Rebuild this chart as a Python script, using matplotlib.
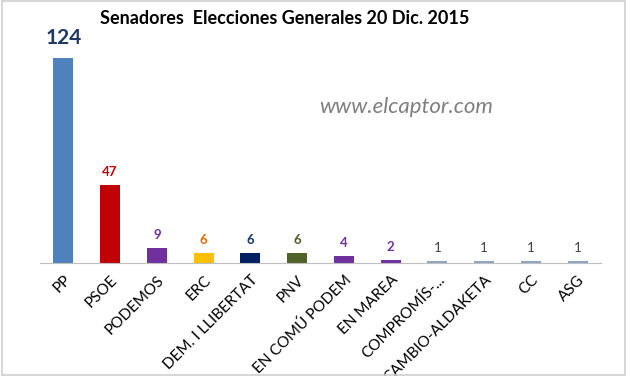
import matplotlib.pyplot as plt
from matplotlib.patches import Rectangle

# Senate seats per party
partidos = ["PP", "PSOE", "PODEMOS", "ERC", "DEM. I LLIBERTAT", "PNV", "EN COMÚ PODEM",
            "EN MAREA", "COMPROMÍS-...", "CAMBIO-ALDAKETA", "CC", "ASG"]
escanos = [124, 47, 9, 6, 6, 6, 4, 2, 1, 1, 1, 1]
colores = ["#4F81BD", "#C00000", "#7030A0", "#FFC000", "#002060", "#4F6228",
           "#7030A0", "#7030A0", "#8EA4BE", "#8EA4BE", "#8EA4BE", "#8EA4BE"]
col_etiq = ["#1F3864", "#C00000", "#7030A0", "#E46C0A", "#1F3864", "#4F6228",
            "#7030A0", "#7030A0", "#404040", "#404040", "#404040", "#404040"]

plt.rcParams['font.family'] = ['Lato', 'DejaVu Sans']

W, H = 627, 376
fig = plt.figure(figsize=(W / 100, H / 100), dpi=100)
fig.patches.append(Rectangle((0.003, 0.003), 0.994, 0.994, transform=fig.transFigure,
                             fill=False, edgecolor="#D0D0D0", linewidth=1.2))

ax = fig.add_axes([40 / W, (H - 263) / H, 561 / W, (263 - 30) / H])
x = range(len(partidos))
ax.bar(x, escanos, width=0.43, color=colores)
ax.set_xlim(-0.5, len(partidos) - 0.5)
ax.set_ylim(0, 141)

for i, v in enumerate(escanos):
    if v > 100:
        ax.annotate(str(v), (i, v), xytext=(0, 7), textcoords="offset points",
                    ha="center", va="bottom", fontsize=15, fontweight="bold", color=col_etiq[i])
    else:
        ax.annotate(str(v), (i, v), xytext=(0, 5), textcoords="offset points",
                    ha="center", va="bottom", fontsize=9.5,
                    fontweight="bold" if v > 1 else "normal", color=col_etiq[i])

for s in ["top", "left", "right"]:
    ax.spines[s].set_visible(False)
ax.spines["bottom"].set_color("#BFBFBF")
ax.set_yticks([])
ax.set_xticks(list(x))
ax.set_xticklabels(partidos, rotation=45, ha="right", rotation_mode="anchor",
                   fontsize=11, color="#000000")
ax.tick_params(axis="x", length=0, pad=7)

fig.text(285 / W, 1 - 18 / H, "Senadores  Elecciones Generales 20 Dic. 2015",
         ha="center", va="center", fontsize=13, fontweight="bold")
fig.text(406 / W, 1 - 107 / H, "www.elcaptor.com", ha="center", va="center",
         fontsize=16, style="italic", color="#7F7F7F")

fig.savefig("out.png", dpi=100)
